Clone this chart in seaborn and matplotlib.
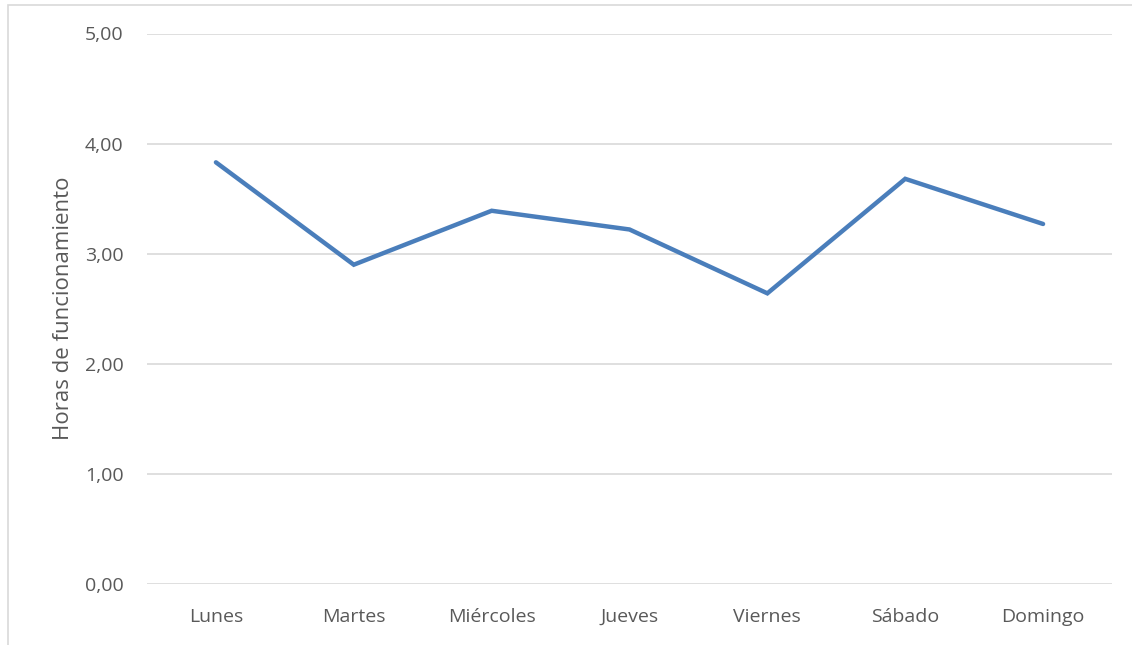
import matplotlib
matplotlib.use("Agg")
import matplotlib.pyplot as plt
import seaborn as sns
import pandas as pd
from matplotlib.patches import Rectangle
from matplotlib.ticker import FuncFormatter

dias = ["Lunes", "Martes", "Miércoles", "Jueves", "Viernes", "Sábado", "Domingo"]
horas = [3.83, 2.90, 3.39, 3.22, 2.64, 3.68, 3.27]
yticks = [0, 1, 2, 3, 4, 5]

df = pd.DataFrame({"dia": dias, "horas": horas})

sns.set_theme(style="white")
plt.rcParams["font.family"] = ["Open Sans", "DejaVu Sans"]

W, H = 1132, 645
fig = plt.figure(figsize=(W / 100, H / 100), dpi=100)
ax = fig.add_axes([147 / W, 1 - 584 / H, (1112 - 147) / W, (584 - 33.5) / H])

df["x"] = range(len(dias))
sns.lineplot(data=df, x="x", y="horas", ax=ax, color="#4A7EBB", linewidth=3.2,
             solid_capstyle="round", solid_joinstyle="miter", sort=False)

ax.set_xlim(-0.5, len(dias) - 0.5)
ax.set_ylim(0, 5)
ax.set_xticks(range(len(dias)))
ax.set_xticklabels(dias)
ax.set_yticks(yticks)
ax.yaxis.set_major_formatter(FuncFormatter(lambda v, p: f"{v:.2f}".replace(".", ",")))
ax.grid(axis="y", color="#D9D9D9", linewidth=1.2)
ax.set_axisbelow(True)
for s in ax.spines.values():
    s.set_visible(False)
ax.tick_params(axis="both", length=0, labelsize=14, labelcolor="#595959")
ax.tick_params(axis="y", pad=17)
ax.tick_params(axis="x", pad=17)
ax.set_xlabel("")
ax.set_ylabel("Horas de funcionamiento", fontsize=16, color="#595959", labelpad=8)

fig.patches.append(Rectangle((7.5 / W, -0.1), 1.2, 1 - 4.5 / H + 0.1, transform=fig.transFigure,
                             fill=False, edgecolor="#D9D9D9", linewidth=1.2))

fig.savefig("out.png", dpi=100)
